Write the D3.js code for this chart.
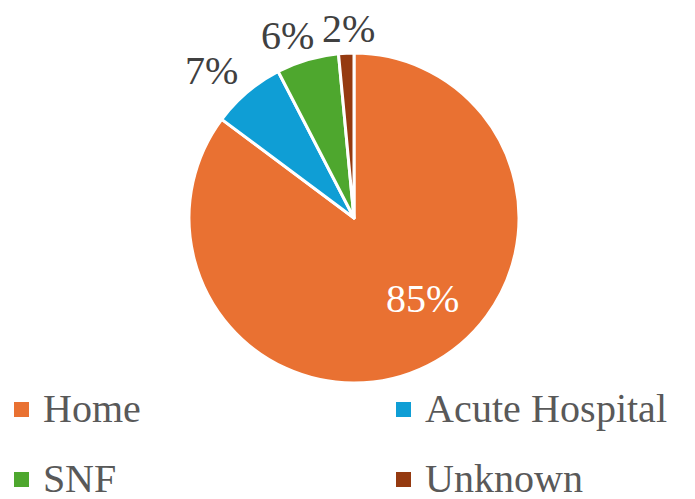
<!DOCTYPE html>
<html><head><meta charset="utf-8">
<script src="https://cdn.jsdelivr.net/npm/d3@7"></script>
<style>
@font-face { font-family: "ChartSerif"; src: local("Liberation Serif"), local("LiberationSerif"), local("Tinos"), local("Times New Roman"); }
body{margin:0;background:#fff}
svg{display:block}
</style>
</head><body>
<script>
const categories = ["Home", "Acute Hospital", "SNF", "Unknown"];
const values = [85.2, 7.2, 6.1, 1.5];
const labels = ["85%", "7%", "6%", "2%"];
const colors = ["#E97132", "#0F9ED5", "#4EA72E", "#953A10"];
// label placement (Excel best-fit): angle nudge (rad) and radius factor
const labelNudge = [-0.24, -0.065, -0.065, 0.02];
const labelRadius = [0.64, 1.24, 1.18, 1.15];

const W = 695, H = 499;
const cx = 354, cy = 218, R = 165;
const FONT = '"ChartSerif", "Liberation Serif", Tinos, "FreeSerif", serif';

const svg = d3.select("body").append("svg").attr("width", W).attr("height", H);
const data = categories.map((c, i) => ({cat: c, value: values[i], label: labels[i], color: colors[i], i}));
const pie = d3.pie().sort(null).value(d => d.value);
const arcs = pie(data);
const arc = d3.arc().innerRadius(0).outerRadius(R);
const g = svg.append("g").attr("transform", `translate(${cx},${cy})`);
g.selectAll("path").data(arcs).join("path")
  .attr("d", arc).attr("fill", d => d.data.color)
  .attr("stroke", "#fff").attr("stroke-width", 3).attr("stroke-linejoin", "round");

g.selectAll("text.lbl").data(arcs).join("text").attr("class", "lbl")
  .attr("x", (a, i) => labelRadius[i] * R * Math.sin((a.startAngle + a.endAngle) / 2 + labelNudge[i]))
  .attr("y", (a, i) => -labelRadius[i] * R * Math.cos((a.startAngle + a.endAngle) / 2 + labelNudge[i]))
  .attr("text-anchor", "middle").attr("dominant-baseline", "central")
  .attr("font-size", 40)
  .style("font-family", FONT)
  .attr("fill", (a, i) => i === 0 ? "#fff" : "#404040")
  .text(a => a.data.label);

// legend
const lx = d3.scaleOrdinal().domain([0, 1]).range([14, 396]);
const ly = d3.scaleOrdinal().domain([0, 1]).range([409, 479]);
const leg = svg.selectAll("g.leg").data(data).join("g").attr("class", "leg")
  .attr("transform", (d, i) => `translate(${lx(i % 2)},${ly(Math.floor(i / 2))})`);
leg.append("rect").attr("x", 0).attr("y", -7).attr("width", 15).attr("height", 15).attr("fill", d => d.color);
leg.append("text").attr("x", 29).attr("y", 13)
  .attr("font-size", 40)
  .style("font-family", FONT)
  .attr("fill", "#595959")
  .text(d => d.cat);
</script>
</body></html>
